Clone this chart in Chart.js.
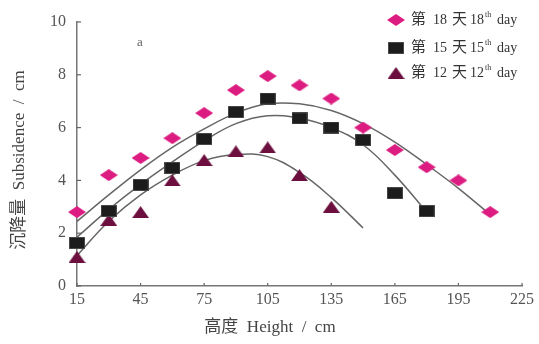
<!DOCTYPE html>
<html>
<head>
<meta charset="utf-8">
<script src="https://cdn.jsdelivr.net/npm/chart.js@4.4.1/dist/chart.umd.min.js"></script>
<style>
html,body{margin:0;padding:0;background:#fff;}
#wrap{width:539px;height:344px;position:relative;}
</style>
</head>
<body>
<div id="wrap"><canvas id="c" width="539" height="344"></canvas></div>
<script>
// ---- data ----
const seriesDays = ['18', '15', '12'];
const seriesNames = ['第 18 天 18th day', '第 15 天 15th day', '第 12 天 12th day'];
const heights18 = [15, 30, 45, 60, 75, 90, 105, 120, 135, 150, 165, 180, 195, 210];
const subsidence18 = [2.8, 4.2, 4.85, 5.6, 6.55, 7.42, 7.95, 7.6, 7.1, 6.0, 5.15, 4.5, 4.0, 2.8];
const heights15 = [15, 30, 45, 60, 75, 90, 105, 120, 135, 150, 165, 180];
const subsidence15 = [1.63, 2.84, 3.83, 4.47, 5.57, 6.59, 7.1, 6.35, 6.0, 5.53, 3.52, 2.84];
const heights12 = [15, 30, 45, 60, 75, 90, 105, 120, 135];
const subsidence12 = [1.1, 2.5, 2.8, 4.0, 4.77, 5.1, 5.25, 4.2, 3.0];
// trend curves
const trendX18 = [15, 30, 45, 60, 75, 90, 105, 120, 135, 150, 165, 180, 195, 210];
const trendY18 = [2.45, 3.45, 4.4, 5.25, 5.95, 6.55, 6.9, 6.9, 6.65, 6.15, 5.45, 4.6, 3.7, 2.7];
const trendX15 = [15, 30, 45, 60, 75, 90, 105, 120, 135, 150, 165, 180];
const trendY15 = [1.85, 2.9, 3.85, 4.7, 5.5, 6.15, 6.45, 6.35, 6.0, 5.35, 4.2, 2.8];
const trendX12 = [15, 30, 45, 60, 75, 90, 105, 120, 135, 150];
const trendY12 = [1.15, 2.45, 3.45, 4.2, 4.75, 4.98, 4.9, 4.3, 3.35, 2.2];
const xTicks = [15, 45, 75, 105, 135, 165, 195, 225];
const yTicks = [0, 2, 4, 6, 8, 10];

const pts = (xs, ys) => xs.map((x, i) => ({x: x, y: ys[i]}));

function shape(kind, w, h, fill, stroke) {
  const c = document.createElement('canvas');
  c.width = w; c.height = h;
  const g = c.getContext('2d');
  g.fillStyle = fill;
  g.beginPath();
  if (kind === 'diamond') {
    g.moveTo(w / 2, 0); g.lineTo(w, h / 2); g.lineTo(w / 2, h); g.lineTo(0, h / 2);
  } else if (kind === 'tri') {
    g.moveTo(w / 2, 0); g.lineTo(w, h); g.lineTo(0, h);
  } else {
    g.rect(0, 0, w, h);
  }
  g.closePath();
  g.fill();
  if (stroke) { g.strokeStyle = stroke; g.lineWidth = 1.5; g.stroke(); }
  return c;
}
const diamondImg = shape('diamond', 18, 12, '#dc1c80');
const squareImg = shape('rect', 16, 12, '#1c1c1c', '#555');
const triImg = shape('tri', 17, 12, '#6c0f3e');
const markers = [diamondImg, squareImg, triImg];

const SERIF = '"Liberation Serif", "Noto Sans CJK SC", serif';

const inwardTicks = {
  id: 'inwardTicks',
  afterDraw(chart) {
    const ctx = chart.ctx, xs = chart.scales.x, ys = chart.scales.y;
    const a = chart.chartArea;
    ctx.save();
    ctx.strokeStyle = '#666';
    ctx.lineWidth = 1.2;
    xTicks.forEach(v => {
      const px = xs.getPixelForValue(v);
      ctx.beginPath(); ctx.moveTo(px, a.bottom); ctx.lineTo(px, a.bottom - 3); ctx.stroke();
    });
    yTicks.forEach(v => {
      const py = ys.getPixelForValue(v);
      ctx.beginPath(); ctx.moveTo(a.left, py); ctx.lineTo(a.left + 4, py); ctx.stroke();
    });
    // panel label
    ctx.fillStyle = '#666';
    ctx.font = '13px ' + SERIF;
    ctx.textAlign = 'center'; ctx.textBaseline = 'middle';
    ctx.fillText('a', 140, 43);
    // axis titles
    ctx.fillStyle = '#444';
    ctx.font = '17px ' + SERIF;
    ctx.fillText('高度  Height  /  cm', 270, 328);
    ctx.save();
    ctx.translate(20, 160);
    ctx.rotate(-Math.PI / 2);
    ctx.fillText('沉降量  Subsidence  /  cm', 0, 0);
    ctx.restore();
    // legend (pieces placed like the reference's spaced text)
    const rows = [20, 48, 73];
    ctx.textAlign = 'left';
    rows.forEach((ry, i) => {
      const m = markers[i];
      ctx.drawImage(m, 396 - m.width / 2, ry - m.height / 2);
      ctx.fillStyle = '#333';
      ctx.font = '15px ' + SERIF;
      ctx.fillText('第', 411, ry);
      ctx.fillText('天', 452, ry);
      ctx.font = '14px ' + SERIF;
      ctx.fillText(seriesDays[i], 433, ry);
      ctx.fillText(seriesDays[i], 470, ry);
      ctx.fillText('day', 497, ry);
      ctx.font = '8px ' + SERIF;
      ctx.fillText('th', 485, ry - 5);
    });
    ctx.restore();
  }
};

new Chart(document.getElementById('c'), {
  type: 'scatter',
  data: {
    datasets: [
      {label: 'trend18', data: pts(trendX18, trendY18), showLine: true, borderColor: '#666', borderWidth: 1.5, pointRadius: 0, tension: 0.4, order: 10, clip: false},
      {label: 'trend15', data: pts(trendX15, trendY15), showLine: true, borderColor: '#666', borderWidth: 1.5, pointRadius: 0, tension: 0.4, order: 10, clip: false},
      {label: 'trend12', data: pts(trendX12, trendY12), showLine: true, borderColor: '#666', borderWidth: 1.5, pointRadius: 0, tension: 0.4, order: 10, clip: false},
      {label: seriesNames[0], data: pts(heights18, subsidence18), pointStyle: diamondImg, order: 1, clip: false},
      {label: seriesNames[1], data: pts(heights15, subsidence15), pointStyle: squareImg, order: 2, clip: false},
      {label: seriesNames[2], data: pts(heights12, subsidence12), pointStyle: triImg, order: 3, clip: false}
    ]
  },
  options: {
    responsive: false,
    animation: false,
    devicePixelRatio: 1,
    layout: {padding: {top: 22, right: 17, left: 0, bottom: 0}},
    plugins: {legend: {display: false}, tooltip: {enabled: false}},
    scales: {
      x: {
        type: 'linear', min: 15, max: 225,
        afterBuildTicks: s => { s.ticks = xTicks.map(v => ({value: v})); },
        afterFit: s => { s.height = 58; },
        grid: {drawOnChartArea: false, drawTicks: false},
        border: {color: '#777', width: 1.5},
        ticks: {padding: 4, color: '#555', font: {family: SERIF, size: 16}, maxRotation: 0}
      },
      y: {
        min: 0, max: 10,
        afterBuildTicks: s => { s.ticks = yTicks.map(v => ({value: v})); },
        afterFit: s => { s.width = 77; },
        grid: {drawOnChartArea: false, drawTicks: false},
        border: {color: '#777', width: 1.5},
        ticks: {padding: 11, color: '#555', font: {family: SERIF, size: 16}}
      }
    }
  },
  plugins: [inwardTicks]
});
</script>
</body>
</html>
